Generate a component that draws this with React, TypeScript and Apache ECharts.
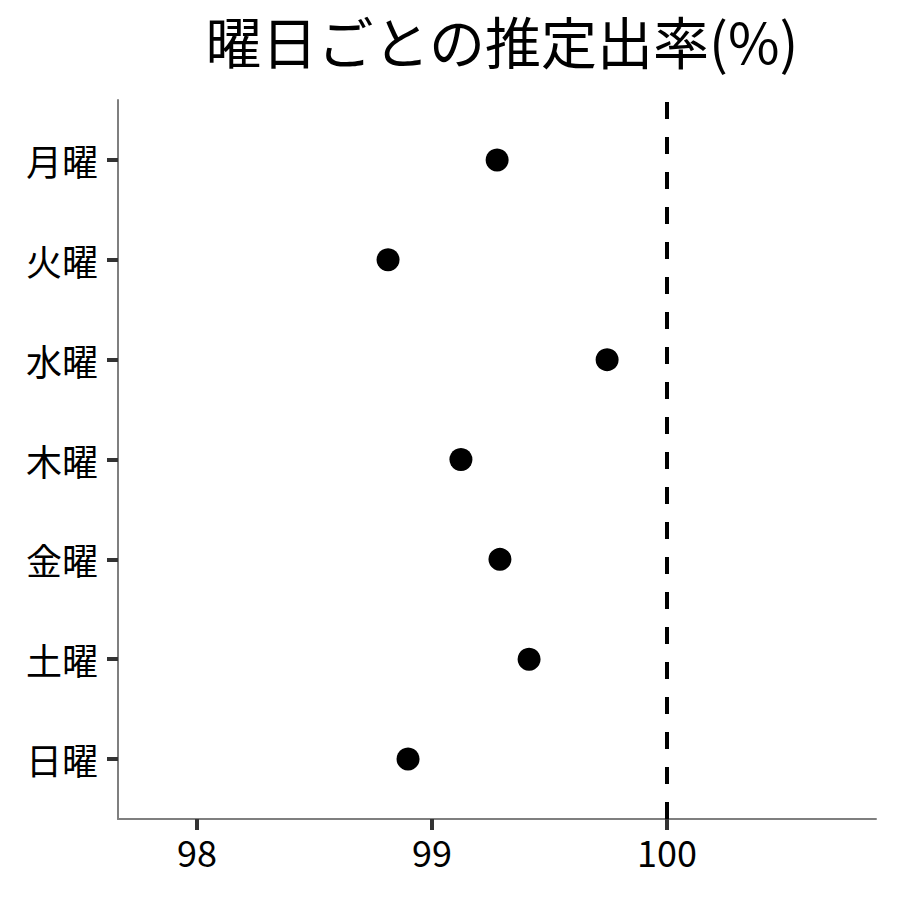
import { useEffect, useRef } from "react";
import * as echarts from "echarts";

const TITLE = "曜日ごとの推定出率(%)";
const DAYS = ["月曜", "火曜", "水曜", "木曜", "金曜", "土曜", "日曜"];
const RATES = [99.277, 98.813, 99.745, 99.123, 99.289, 99.413, 98.898];
const X_TICKS = [98, 99, 100];
const REFERENCE_LINE = 100;

const FONT = '"Noto Sans CJK JP", "Noto Sans", sans-serif';

export default function App() {
  const chartRef = useRef<HTMLDivElement>(null);

  useEffect(() => {
    document.body.style.margin = "0";
    if (!chartRef.current) return;
    const chart = echarts.init(chartRef.current, undefined, { renderer: "svg" });

    // top row (月曜) sits at the highest y value
    const yPos = DAYS.map((_, i) => DAYS.length - i);
    const points = RATES.map((v, i) => [v, yPos[i]]);

    chart.setOption({
      animation: false,
      backgroundColor: "#ffffff",
      title: {
        text: TITLE,
        left: 497,
        textAlign: "center",
        top: 6,
        textStyle: {
          color: "#000",
          fontSize: 56,
          fontWeight: "normal",
          fontFamily: FONT,
        },
      },
      grid: { left: 118, right: 24, top: 100, bottom: 81 },
      xAxis: {
        type: "value",
        min: 97.664,
        max: 100.889,
        axisLine: { show: true, lineStyle: { color: "#7f7f7f", width: 2 } },
        axisTick: {
          show: true,
          customValues: X_TICKS,
          length: 11,
          lineStyle: { color: "#333", width: 4 },
        },
        axisLabel: {
          customValues: X_TICKS,
          color: "#000",
          fontSize: 36,
          fontFamily: FONT,
          margin: 14,
        },
        splitLine: { show: false },
      },
      yAxis: {
        type: "value",
        min: 0.4,
        max: 7.6,
        axisLine: { show: true, lineStyle: { color: "#7f7f7f", width: 2 } },
        axisTick: {
          show: true,
          customValues: yPos,
          length: 11,
          lineStyle: { color: "#333", width: 4 },
        },
        axisLabel: {
          customValues: yPos,
          formatter: (v: number) => DAYS[DAYS.length - Math.round(v)],
          color: "#000",
          fontSize: 36,
          fontFamily: FONT,
          margin: 20,
        },
        splitLine: { show: false },
      },
      series: [
        {
          type: "scatter",
          data: points,
          symbol: "circle",
          symbolSize: 23,
          itemStyle: { color: "#000", opacity: 1 },
          markLine: {
            silent: true,
            symbol: ["none", "none"],
            label: { show: false },
            lineStyle: { color: "#000", width: 4, type: [17, 18] },
            data: [{ xAxis: REFERENCE_LINE }],
          },
        },
      ],
    });

    return () => {
      chart.dispose();
    };
  }, []);

  return <div ref={chartRef} style={{ width: 900, height: 900 }} />;
}
